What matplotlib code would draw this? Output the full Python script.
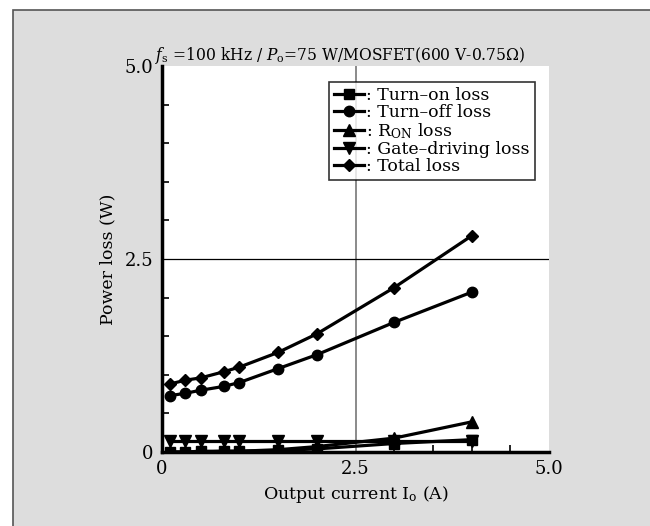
import matplotlib
matplotlib.use("Agg")
import matplotlib.pyplot as plt
from matplotlib.patches import Rectangle
from matplotlib.ticker import MultipleLocator

plt.rcParams["font.family"] = ["DejaVu Serif"]
plt.rcParams["mathtext.fontset"] = "dejavuserif"

# Data
current = [0.1, 0.3, 0.5, 0.8, 1.0, 1.5, 2.0, 3.0, 4.0]
turn_on = [0.00, 0.00, 0.01, 0.01, 0.01, 0.02, 0.04, 0.11, 0.16]
turn_off = [0.73, 0.76, 0.80, 0.85, 0.90, 1.08, 1.26, 1.68, 2.07]
r_on = [0.00, 0.00, 0.00, 0.01, 0.01, 0.03, 0.07, 0.18, 0.39]
gate = [0.14, 0.14, 0.14, 0.14, 0.14, 0.14, 0.14, 0.14, 0.14]
total = [0.88, 0.93, 0.96, 1.04, 1.10, 1.29, 1.53, 2.13, 2.80]

labels = [": Turn\u2013on loss", ": Turn\u2013off loss", r": R$_{\rm ON}$ loss",
          ": Gate\u2013driving loss", ": Total loss"]

fig = plt.figure(figsize=(6.5, 5.26), dpi=100)
fig.patch.set_facecolor("white")

# grey panel with a frame on the left/top edges
panel = Rectangle((13 / 650, -0.1), 1.2, 1 - 10 / 526 + 0.1, transform=fig.transFigure,
                  facecolor="#dddddd", edgecolor="#555555", linewidth=1.2, zorder=-10)
fig.patches.append(panel)

ax = fig.add_axes([162 / 650, 1 - 452 / 526, 387 / 650, 386 / 526])
ax.set_facecolor("white")

ax.axvline(2.5, color="#777777", linewidth=1.2, zorder=1)
ax.axhline(2.5, color="black", linewidth=0.9, zorder=1)

lw = 2.3
ax.plot(current, turn_on, color="black", lw=lw, marker="s", ms=6.5, label=labels[0], zorder=3)
ax.plot(current, turn_off, color="black", lw=lw, marker="o", ms=7.5, label=labels[1], zorder=3)
ax.plot(current, r_on, color="black", lw=lw, marker="^", ms=8, label=labels[2], zorder=3)
ax.plot(current, gate, color="black", lw=lw, marker="v", ms=8, label=labels[3], zorder=3)
ax.plot(current, total, color="black", lw=lw, marker="D", ms=6, label=labels[4], zorder=3)

ax.set_xlim(0, 5)
ax.set_ylim(0, 5)
ax.set_xticks([0, 2.5, 5.0])
ax.set_xticklabels(["0", "2.5", "5.0"])
ax.set_yticks([0, 2.5, 5.0])
ax.set_yticklabels(["0", "2.5", "5.0"])
ax.xaxis.set_minor_locator(MultipleLocator(0.5))
ax.yaxis.set_minor_locator(MultipleLocator(0.5))
ax.tick_params(which="both", direction="in", labelsize=13, width=1.2)
ax.tick_params(which="major", length=0, pad=6)
ax.tick_params(which="minor", length=5)

for side in ["top", "right"]:
    ax.spines[side].set_visible(False)
for side in ["left", "bottom"]:
    ax.spines[side].set_linewidth(2.5)

ax.set_xlabel(r"Output current I$_{\rm o}$ (A)", fontsize=12.5, labelpad=4)
ax.set_ylabel("Power loss (W)", fontsize=12.5, labelpad=6)

fig.text(155 / 650, 1 - 60 / 526,
         r"$f_{\rm s}$ =100 kHz / $P_{\rm o}$=75 W/MOSFET(600 V-0.75$\Omega$)",
         fontsize=11.2, ha="left", va="baseline")

leg = ax.legend(loc="upper right", bbox_to_anchor=(373 / 387, 1 - 16 / 386), fontsize=12.5,
                frameon=True, fancybox=False, edgecolor="black", handlelength=1.7,
                handletextpad=0.15, labelspacing=0.0, borderpad=0.3, borderaxespad=0)
leg.get_frame().set_linewidth(1.2)

fig.savefig("out.png", dpi=100)
